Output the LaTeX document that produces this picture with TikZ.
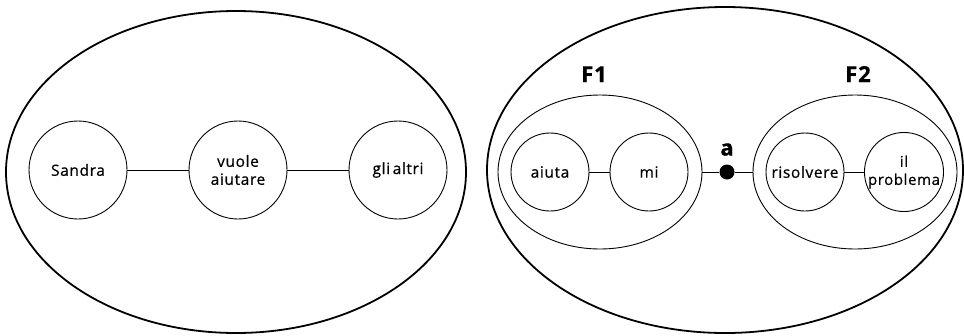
\documentclass[tikz,border=0pt]{standalone}
\usepackage{fontspec}
\setmainfont{Open Sans}[LetterSpace=4,FakeBold=0.6]
\usetikzlibrary{shapes.geometric,positioning}

\tikzset{
  word/.style={draw, circle, line width=0.9pt, minimum size=98pt, inner sep=0pt,
    align=center, font=\fontsize{15.5}{18}\selectfont},
  smallword/.style={word, minimum size=78pt},
  phrase/.style={draw, ellipse, line width=0.9pt, minimum width=204pt, minimum height=154pt, inner sep=0pt},
  whole/.style={draw, ellipse, line width=1.8pt, inner sep=0pt},
  link/.style={line width=0.9pt},
  tag/.style={font=\bfseries\fontsize{22}{24}\selectfont},
}

\begin{document}
\begin{tikzpicture}[x=1pt,y=-1pt]
        \useasboundingbox (0,0) rectangle (964,335);

        % Left sentence
        \node[whole, minimum width=460pt, minimum height=322pt] (left) at (236,172) {};
        \node[word] (sandra) at (78,170) {Sandra};
        \node[word] (vuole) at (238,170) {vuole\\aiutare};
        \node[word] (altri) at (398,170) {gli\,altri};
        \draw[link] (sandra) -- (vuole);
        \draw[link] (vuole) -- (altri);

        % Right sentence
        \node[whole, minimum width=476pt, minimum height=326pt] (right) at (725,170) {};

        % First phrase
        \node[phrase] (f1) at (600,172) {};
        \node[tag, above=9pt of f1, xshift=-6pt] (f1lab) {F1};
        \node[smallword] (aiuta) at (550,172) {aiuta};
        \node[smallword] (mi) at (649,172) {mi};
        \draw[link] (aiuta) -- (mi);

        % Second phrase
        \node[phrase] (f2) at (855,172) {};
        \node[tag, above=9pt of f2, xshift=3pt] (f2lab) {F2};
        \node[smallword] (risolvere) at (805,172) {risolvere};
        \node[smallword, font=\fontsize{15}{18}\selectfont] (problema) at (904,172) {il\\problema};
        \draw[link] (risolvere) -- (problema);

        % Joining word
        \node[circle, fill, inner sep=0pt, minimum size=15pt] (dot) at (727,172) {};
        \node[tag, above=5pt of dot] (alab) {a};
        \draw[link] (f1) -- (dot) -- (f2);
      \end{tikzpicture}
\end{document}
